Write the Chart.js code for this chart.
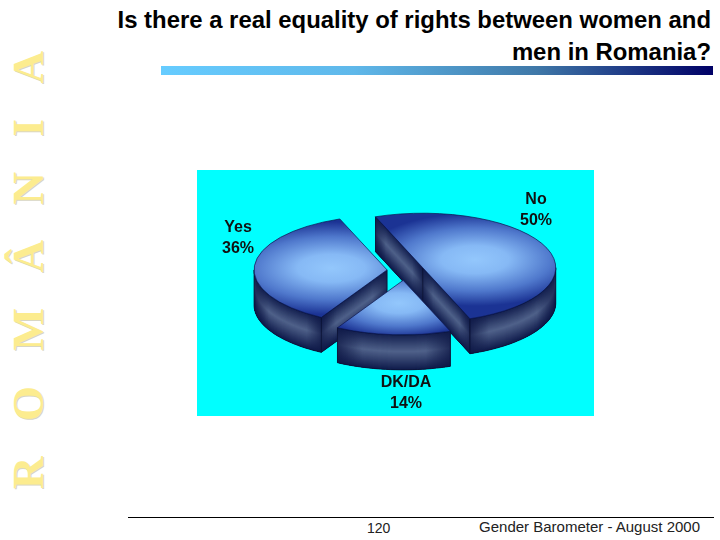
<!doctype html>
<html lang="en">
  <head>
    <meta charset="utf-8">
    <title>Gender Barometer</title>
    <script src="https://cdn.jsdelivr.net/npm/chart.js"></script>
    <style>
      html, body { margin: 0; padding: 0; background: #fff; }
      body { position: relative; width: 720px; height: 540px; overflow: hidden; font-family: "Liberation Sans", Arial, sans-serif; }
      h1 { position: absolute; right: 9px; top: 4px; width: 640px; margin: 0; text-align: right; font-size: 23.9px; line-height: 32px; font-weight: bold; color: #000; }
      #bar { position: absolute; left: 161px; top: 66px; width: 552px; height: 9px; background: linear-gradient(to right, #66ccff 0%, #5fb8ea 35%, #3f78a8 68%, #000066 100%); }
      #side { position: absolute; left: 6px; top: 489px; transform-origin: 0 0; transform: rotate(-90deg); white-space: nowrap; font-family: "Liberation Serif", serif; font-weight: bold; font-size: 45px; line-height: 1; letter-spacing: 35.5px; color: #fcec8f; text-shadow: -1px 1px 0 #d8d6c4; height: 46px; }
      #spinne { position: absolute; left: 197px; top: 170px; background: #00ffff; }
      #rule { position: absolute; left: 128px; top: 517px; width: 586px; height: 1px; background: #000; }
      #page { position: absolute; left: 367px; top: 520px; font-size: 14px; color: #222; }
      #foot { position: absolute; right: 20px; top: 518px; font-size: 15px; color: #222; }
    </style>
  </head>
  <body>

  <h1>Is there a real equality of rights between women and<br>men in Romania?</h1>
  <div id="bar"></div>
  <div id="side">ROMÂNIA</div>
  <canvas id="spinne" width="397" height="246"></canvas>
  <div id="rule"></div>
  <div id="page">120</div>
  <div id="foot">Gender Barometer - August 2000</div>

  <script>
    const categories = ['No', 'DK/DA', 'Yes'];
    const shares = [50, 14, 36];
    const startAngle = -20.8;

    // how the flat pie is laid over to look 3D
    const flatten = 0.41;
    const depth = 35;
    const pieRadius = 133;
    const explode = [19, 24, 18];
    const labelShift = [[131, -60], [1, 123], [-167, -32]];

    function midAngle(index) {
      const total = shares.reduce((a, b) => a + b, 0);
      const before = shares.slice(0, index).reduce((a, b) => a + b, 0);
      return (startAngle - 90 + (before + shares[index] / 2) / total * 360) * Math.PI / 180;
    }

    function topGradient(context) {
      const chart = context.chart;
      const area = chart.chartArea;
      if (!area) return '#1c3596';
      const i = context.dataIndex;
      const a = midAngle(i);
      const cx = (area.left + area.right) / 2 + Math.cos(a) * (explode[i] + pieRadius * 0.42);
      const cy = (area.top + area.bottom) / 2 + Math.sin(a) * (explode[i] + pieRadius * 0.42);
      const g = chart.ctx.createRadialGradient(cx, cy, 0, cx, cy, pieRadius * (i === 1 ? 0.62 : 0.85));
      g.addColorStop(0, '#93c7fc');
      g.addColorStop(0.3, '#86b9f5');
      g.addColorStop(0.68, '#4f78cc');
      g.addColorStop(1, '#1b3394');
      return g;
    }

    function drawWall(ctx, pts) {
      const xs = pts.map(p => p[0]);
      const minX = Math.min(...xs);
      const maxX = Math.max(...xs);
      const outline = () => {
        ctx.beginPath();
        pts.forEach((p, n) => n ? ctx.lineTo(p[0], p[1]) : ctx.moveTo(p[0], p[1]));
        pts.slice().reverse().forEach(p => ctx.lineTo(p[0], p[1] + depth));
        ctx.closePath();
      };
      ctx.save();
      outline();
      ctx.clip();
      ctx.fillStyle = '#14214f';
      ctx.fillRect(minX - 2, -50, maxX - minX + 4, 400);
      // bands running along the wall, dark at rim and foot
      for (let k = 0; k <= depth; k += 0.5) {
        const m = 1 - Math.abs(2 * k / depth - 1);
        ctx.strokeStyle = `rgb(${Math.round(18 + m * 62)},${Math.round(30 + m * 68)},${Math.round(78 + m * 60)})`;
        ctx.lineWidth = 2;
        ctx.beginPath();
        pts.forEach((p, n) => n ? ctx.lineTo(p[0], p[1] + k) : ctx.moveTo(p[0], p[1] + k));
        ctx.stroke();
      }
      const side = ctx.createLinearGradient(minX, 0, maxX, 0);
      side.addColorStop(0, 'rgba(14,24,70,0.75)');
      side.addColorStop(0.22, 'rgba(14,24,70,0)');
      side.addColorStop(0.78, 'rgba(14,24,70,0)');
      side.addColorStop(1, 'rgba(14,24,70,0.75)');
      ctx.fillStyle = side;
      ctx.fillRect(minX - 2, -50, maxX - minX + 4, 400);
      ctx.restore();
      outline();
      ctx.strokeStyle = '#0a1234';
      ctx.lineWidth = 0.8;
      ctx.stroke();
    }

    const pie3d = {
      id: 'pie3d',
      // pull the slices apart by hand, the offset option also changes their size
      afterDatasetsUpdate(chart) {
        chart.getDatasetMeta(0).data.forEach((arc, i) => {
          const a = (arc.startAngle + arc.endAngle) / 2;
          arc.x += Math.cos(a) * explode[i];
          arc.y += Math.sin(a) * explode[i];
        });
      },
      beforeDatasetsDraw(chart) {
        const ctx = chart.ctx;
        const area = chart.chartArea;
        const cy = (area.top + area.bottom) / 2;
        const arcs = chart.getDatasetMeta(0).data;
        [2, 0, 1].forEach(i => {
          const arc = arcs[i];
          const sx = arc.x;
          const sy = cy + (arc.y - cy) * flatten;
          const point = t => [sx + arc.outerRadius * Math.cos(t), sy + arc.outerRadius * Math.sin(t) * flatten];
          const a0 = arc.startAngle;
          const a1 = arc.endAngle;
          if (Math.sin(a0 - Math.PI / 2) > 0) drawWall(ctx, [[sx, sy], point(a0)]);
          if (Math.sin(a1 + Math.PI / 2) > 0) drawWall(ctx, [[sx, sy], point(a1)]);
          for (let k = -1; k <= 1; k++) {
            const lo = Math.max(a0, 2 * Math.PI * k);
            const hi = Math.min(a1, 2 * Math.PI * k + Math.PI);
            if (hi <= lo) continue;
            const pts = [];
            for (let n = 0; n <= 48; n++) pts.push(point(lo + (hi - lo) * n / 48));
            drawWall(ctx, pts);
          }
        });
        ctx.save();
        ctx.translate(0, cy);
        ctx.scale(1, flatten);
        ctx.translate(0, -cy);
      },
      afterDatasetsDraw(chart) {
        const ctx = chart.ctx;
        const area = chart.chartArea;
        ctx.restore();
        const cx = (area.left + area.right) / 2;
        const cy = (area.top + area.bottom) / 2;
        ctx.save();
        ctx.font = 'bold 16px "Liberation Sans", Arial, sans-serif';
        ctx.fillStyle = '#111';
        ctx.textAlign = 'center';
        ctx.textBaseline = 'middle';
        categories.forEach((name, i) => {
          const lx = cx + labelShift[i][0];
          const ly = cy + labelShift[i][1];
          ctx.fillText(name, lx, ly - 10.5);
          ctx.fillText(shares[i] + '%', lx, ly + 10.5);
        });
        ctx.restore();
      }
    };

    new Chart(document.getElementById('spinne').getContext('2d'), {
      type: 'pie',
      plugins: [pie3d],
      data: {
        labels: categories,
        datasets: [{
          data: shares,
          clip: false,
          backgroundColor: topGradient,
          borderColor: '#0b1650',
          borderWidth: 1
        }]
      },
      options: {
        responsive: false,
        animation: false,
        events: [],
        rotation: startAngle,
        radius: pieRadius,
        layout: { padding: { left: 19, bottom: 45 } },
        plugins: { legend: { display: false }, tooltip: { enabled: false } }
      }
    });
  </script>

  </body>
</html>
